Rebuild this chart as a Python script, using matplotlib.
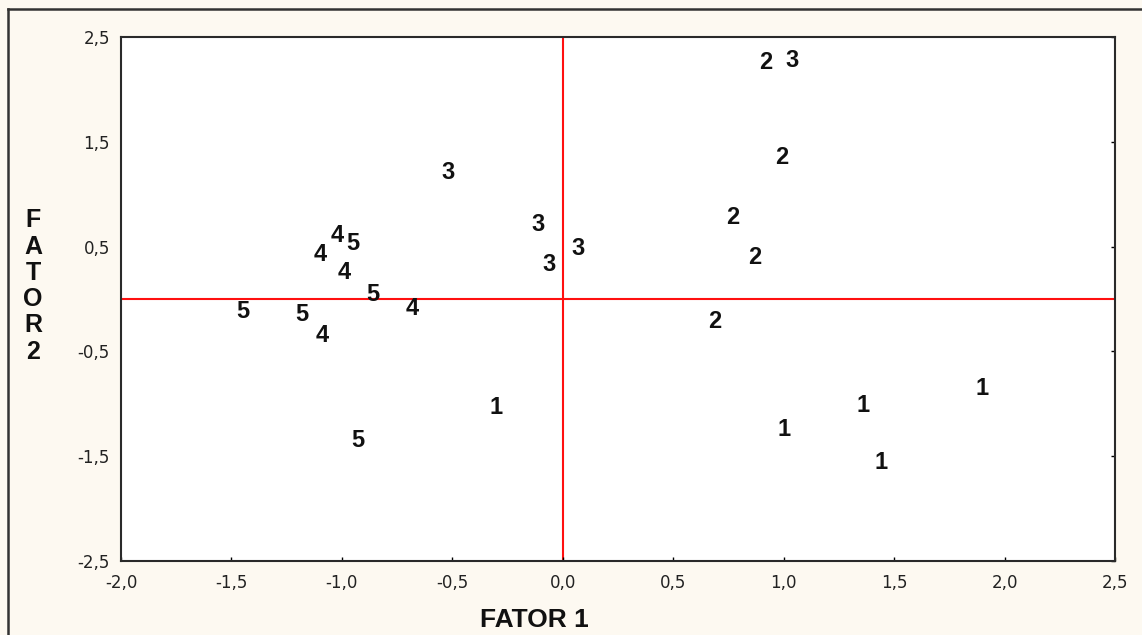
import matplotlib
matplotlib.use('Agg')
import matplotlib.pyplot as plt
from matplotlib.lines import Line2D

# group labels and factor scores (FATOR 1, FATOR 2)
labels = ['2', '3', '2', '3', '2', '3', '3', '3', '2', '2',
          '4', '5', '4', '4', '5', '4', '5', '5', '4',
          '1', '5', '1', '1', '1', '1']
fator1 = [0.92, 1.04, 0.99, -0.52, 0.77, -0.11, 0.07, -0.06, 0.87, 0.69,
          -1.02, -0.95, -1.10, -0.99, -0.86, -0.68, -1.45, -1.18, -1.09,
          -0.30, -0.93, 1.90, 1.36, 1.00, 1.44]
fator2 = [2.26, 2.28, 1.35, 1.21, 0.78, 0.71, 0.48, 0.33, 0.40, -0.21,
          0.61, 0.53, 0.42, 0.25, 0.04, -0.09, -0.12, -0.15, -0.35,
          -1.04, -1.35, -0.85, -1.02, -1.25, -1.56]

xticks = [-2.0, -1.5, -1.0, -0.5, 0.0, 0.5, 1.0, 1.5, 2.0, 2.5]
xticklabels = ['-2,0', '-1,5', '-1,0', '-0,5', '0,0', '0,5', '1,0', '1,5', '2,0', '2,5']
yticks = [-2.5, -1.5, -0.5, 0.5, 1.5, 2.5]
yticklabels = ['-2,5', '-1,5', '-0,5', '0,5', '1,5', '2,5']

plt.rcParams['font.family'] = ['Liberation Sans', 'DejaVu Sans']

W, H = 1142, 635
fig = plt.figure(figsize=(W / 100, H / 100), dpi=100, facecolor='#fdf9f1')
ax = fig.add_axes([121 / W, 1 - 561 / H, (1115 - 121) / W, (561 - 37) / H])
ax.set_facecolor('white')

ax.set_xlim(-2.0, 2.5)
ax.set_ylim(-2.5, 2.5)

ax.axvline(0, color='#ff1010', linewidth=1.5, zorder=1)
ax.axhline(0, color='#ff1010', linewidth=1.5, zorder=1)

for lab, x, y in zip(labels, fator1, fator2):
    ax.text(x, y, lab, ha='center', va='center', fontsize=17,
            fontweight='bold', color='#111111', zorder=3)

ax.set_xticks(xticks)
ax.set_xticklabels(xticklabels, family='DejaVu Sans', fontsize=12, color='#222222')
ax.set_yticks(yticks)
ax.set_yticklabels(yticklabels, family='DejaVu Sans', fontsize=12, color='#222222')
ax.tick_params(axis='x', direction='in', length=3, width=1, pad=9, bottom=True, top=False)
ax.tick_params(axis='y', direction='in', length=3, width=1, pad=8,
               left=False, right=True, labelleft=True, labelright=False)

for s in ax.spines.values():
    s.set_linewidth(1.5)
    s.set_color('#2a2a2a')

fig.text(534 / W, 1 - 620 / H, 'FATOR 1', ha='center', va='center',
         fontsize=19, fontweight='bold', color='#111111')
fig.text(33 / W, 1 - 286 / H, 'F\nA\nT\nO\nR\n2', ha='center', va='center',
         fontsize=18, fontweight='bold', color='#111111', linespacing=1.12)

# outer frame (only left and top edges are inside the picture)
fig.add_artist(Line2D([8 / W, 8 / W], [0, 1 - 9 / H], transform=fig.transFigure,
                      color='#333333', linewidth=1.8))
fig.add_artist(Line2D([8 / W, 1], [1 - 9 / H, 1 - 9 / H], transform=fig.transFigure,
                      color='#333333', linewidth=1.8))

plt.savefig('out.png', dpi=100, facecolor=fig.get_facecolor())
plt.close()
